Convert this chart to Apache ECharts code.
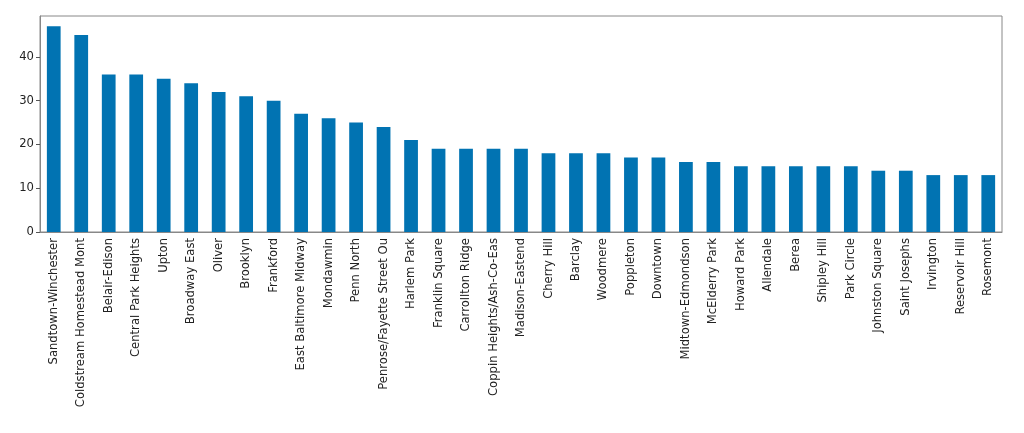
<!DOCTYPE html>
<html><head><meta charset="utf-8">
<script src="https://cdn.jsdelivr.net/npm/echarts@6/dist/echarts.min.js"></script>
<style>html,body{margin:0;padding:0;background:#fff}#c{width:1024px;height:433px}</style>
</head><body><div id="c"></div>
<script>
const categories = ["Sandtown-Winchester","Coldstream Homestead Mont","Belair-Edison","Central Park Heights","Upton","Broadway East","Oliver","Brooklyn","Frankford","East Baltimore Midway","Mondawmin","Penn North","Penrose/Fayette Street Ou","Harlem Park","Franklin Square","Carrollton Ridge","Coppin Heights/Ash-Co-Eas","Madison-Eastend","Cherry Hill","Barclay","Woodmere","Poppleton","Downtown","Midtown-Edmondson","McElderry Park","Howard Park","Allendale","Berea","Shipley Hill","Park Circle","Johnston Square","Saint Josephs","Irvington","Reservoir Hill","Rosemont"];
const values = [47,45,36,36,35,34,32,31,30,27,26,25,24,21,19,19,19,19,18,18,18,17,17,16,16,15,15,15,15,15,14,14,13,13,13];
const yTicks = [0,10,20,30,40];

const chart = echarts.init(document.getElementById('c'), null, {renderer:'canvas'});
const font = 'DejaVu Sans';
chart.setOption({
  animation:false,
  grid:{left:40,top:16,right:22,bottom:201,show:true,borderColor:'#888',borderWidth:1,backgroundColor:'transparent'},
  xAxis:{type:'category',data:categories,boundaryGap:true,
    axisLine:{lineStyle:{color:'#888',width:1}},
    axisTick:{alignWithLabel:true,length:4,lineStyle:{color:'#555'}},
    axisLabel:{rotate:90,interval:0,margin:6,color:'#222',fontFamily:font,fontSize:11.6}},
  yAxis:{type:'value',min:0,max:49.35,interval:10,
    splitLine:{show:false},
    axisLine:{show:true,lineStyle:{color:'#888',width:1}},
    axisTick:{show:true,length:4,customValues:yTicks,lineStyle:{color:'#555'}},
    axisLabel:{customValues:yTicks,margin:6,color:'#222',fontFamily:font,fontSize:11.6}},
  series:[{type:'bar',data:values,barWidth:'50%',itemStyle:{color:'#0173b2'}}]
});
</script></body></html>
